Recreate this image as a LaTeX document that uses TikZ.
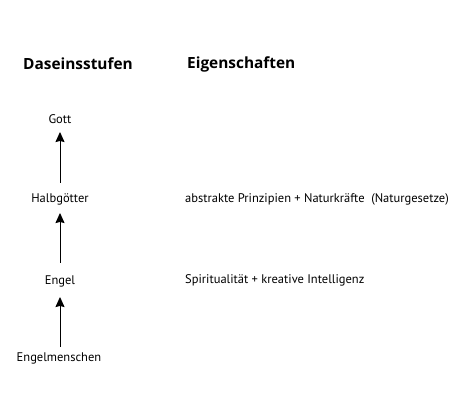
\documentclass[tikz,border=0pt]{standalone}
\usepackage{fontspec}
\setmainfont{PT Sans}
\newfontfamily\headfont{Open Sans}
\usetikzlibrary{arrows.meta}
\begin{document}
\begin{tikzpicture}[x=1pt,y=-1pt,
  lab/.style={inner sep=0pt,font=\fontsize{12.5}{14}\selectfont},
  head/.style={inner sep=0pt,font=\headfont\fontsize{15.4}{17}\selectfont\bfseries},
  up/.style={-{Stealth[length=10pt,width=9pt,inset=1pt]},line width=1pt}]
\useasboundingbox (0,0) rectangle (466,419);
\node[head,anchor=west] (h1) at (23,64) {Daseinsstufen};
\node[head,anchor=west] (h2) at (187,64) {Eigenschaften};
\node[lab] (gott) at (60,119) {Gott};
\node[lab] (halb) at (60,199) {Halbgötter};
\node[lab] (engel) at (60,281) {Engel};
\node[lab] (em) at (59,358) {Engelmenschen};
\node[lab,anchor=west] (e1) at (185,199) {abstrakte Prinzipien + Naturkräfte\ \ (Naturgesetze)};
\node[lab,anchor=west] (e2) at (185,280) {Spiritualität + kreative Intelligenz};
\coordinate (a1s) at (60,183); \coordinate (a1e) at (60,132);
\coordinate (a2s) at (60,263); \coordinate (a2e) at (60,213);
\coordinate (a3s) at (60,347); \coordinate (a3e) at (60,297);
\draw[up] (a1s) -- (a1e);
\draw[up] (a2s) -- (a2e);
\draw[up] (a3s) -- (a3e);
\end{tikzpicture}
\end{document}
